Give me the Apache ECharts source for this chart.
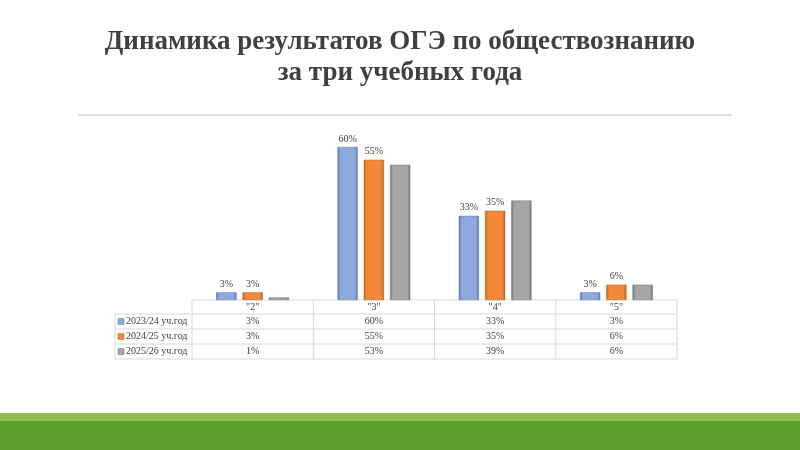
<!DOCTYPE html>
<html><head><meta charset="utf-8">
<script src="https://cdn.jsdelivr.net/npm/echarts@6/dist/echarts.min.js"></script>
<style>html,body{margin:0;padding:0;background:#fff}#c{width:800px;height:450px}</style>
</head><body><div id="c"></div>
<script>
const categories = ['"2"', '"3"', '"4"', '"5"'];
const seriesNames = ['2023/24 уч.год', '2024/25 уч.год', '2025/26 уч.год'];
const s2023 = [3, 60, 33, 3];
const s2024 = [3, 55, 35, 6];
const s2025 = [1, 53, 39, 6];
const values = [s2023, s2024, s2025];
const colors = ['#8EA9DB', '#F4883A', '#A6A6A6'];
const edge = ['#5A77AE', '#B8621E', '#737373'];
const showLabel = [true, true, false];

const chart = echarts.init(document.getElementById('c'));
const gl = 192, gr = 677, base = 300, colW = (gr - gl) / categories.length;
const labelL = 115, rowH = 15;
const font = 'Liberation Serif';
const g = [];
// title rule and green band
g.push({type:'line', shape:{x1:78,y1:115,x2:732,y2:115}, style:{stroke:'#BFBFBF',lineWidth:1}});
g.push({type:'rect', shape:{x:0,y:413,width:800,height:8}, style:{fill:'#8CC152'}});
g.push({type:'rect', shape:{x:0,y:421,width:800,height:29}, style:{fill:'#5E9E2E'}});
// table
const tc = '#D9D9D9';
g.push({type:'line', shape:{x1:gl,y1:base,x2:gr,y2:base}, style:{stroke:tc}});
for (let r = 0; r <= 3; r++) {
  const y = base + 14 + r * rowH;
  g.push({type:'line', shape:{x1:labelL,y1:y,x2:gr,y2:y}, style:{stroke:tc}});
}
for (let c = 0; c <= categories.length; c++) {
  const x = gl + c * colW;
  g.push({type:'line', shape:{x1:x,y1:base,x2:x,y2:base+14+3*rowH}, style:{stroke:tc}});
}
g.push({type:'line', shape:{x1:labelL,y1:base+14,x2:labelL,y2:base+14+3*rowH}, style:{stroke:tc}});
categories.forEach((c, i) => g.push({type:'text', x: gl + (i + 0.5) * colW, y: base + 7,
  style:{text:c, font:'10px ' + font, fill:'#404040', align:'center', verticalAlign:'middle'}}));
seriesNames.forEach((n, r) => {
  const y = base + 14 + (r + 0.5) * rowH;
  g.push({type:'rect', shape:{x:labelL+3,y:y-3,width:6,height:6}, style:{fill:colors[r], stroke:edge[r], lineWidth:0.5}});
  g.push({type:'text', x: labelL + 11, y, style:{text:n, font:'10px ' + font, fill:'#404040', verticalAlign:'middle'}});
  values[r].forEach((v, i) => g.push({type:'text', x: gl + (i + 0.5) * colW, y,
    style:{text:v + '%', font:'10px ' + font, fill:'#404040', align:'center', verticalAlign:'middle'}}));
});

chart.setOption({
  animation:false,
  title:{text:'Динамика результатов ОГЭ по обществознанию\nза три учебных года', left:'center', top:22,
    textStyle:{fontFamily:font, fontWeight:'bold', fontSize:27, color:'#404040', lineHeight:31}},
  grid:{left:gl, right:800-gr, top:121.5, bottom:450-base},
  xAxis:{type:'category', data:categories, axisLabel:{show:false}, axisTick:{show:false},
    axisLine:{show:false}},
  yAxis:{type:'value', min:0, max:70, show:false, splitLine:{show:false}},
  series: values.map((d, i) => ({
    type:'bar', name:seriesNames[i], data:d, barGap:'30%', barCategoryGap:'40%',
    itemStyle:{color:new echarts.graphic.LinearGradient(0,0,1,0,[
      {offset:0,color:edge[i]},{offset:0.15,color:colors[i]},{offset:0.85,color:colors[i]},{offset:1,color:edge[i]}]),
      borderColor:edge[i], borderWidth:0.5},
    label:{show:showLabel[i], position:'top', formatter:'{c}%', fontFamily:font, fontSize:10, color:'#404040', distance:3}
  })),
  graphic:g
});
</script></body></html>
